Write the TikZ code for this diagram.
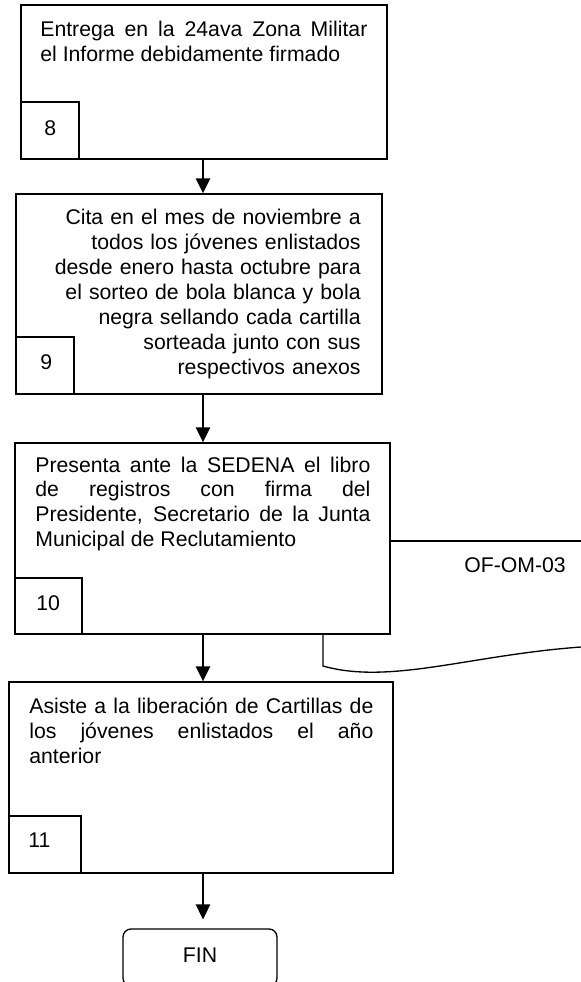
\documentclass[tikz,border=0pt]{standalone}
\usepackage{fontspec}
\setmainfont{Liberation Sans}
\usetikzlibrary{arrows.meta,fit,calc}
\begin{document}
\begin{tikzpicture}[x=0.565pt,y=-0.565pt,
  box/.style={draw,line width=0.75pt,inner sep=0pt,rectangle},
  ln/.style={line width=0.75pt},
  arr/.style={line width=1.1pt,-{Triangle[width=8pt,length=8.5pt]}},
  txt/.style={inner sep=0pt,font=\fontsize{12}{14.1}\selectfont,text width=#1,align=justify,anchor=base west},
  rtxt/.style={inner sep=0pt,font=\fontsize{12}{14.1}\selectfont,text width=#1,align=right,anchor=base east},
  num/.style={inner sep=0pt,font=\fontsize{12}{14.1}\selectfont,anchor=west}
]
\useasboundingbox (0,0) rectangle (581,982);

% Box 8
\node[box,fit={(21,5) (387,159)}] (b8) {};
\node[box,fit={(21,102) (79,159)}] (n8) {};
\node[txt=184.8pt] (t8) at (40,36.5) {Entrega en la 24ava Zona Militar\linebreak el Informe debidamente firmado};
\node[num] (l8) at (44,128) {8};

% Box 9
\node[box,fit={(16,194) (382,394)}] (b9) {};
\node[box,fit={(16,337) (74,394)}] (n9) {};
\node[rtxt=185pt] (t9) at (361,224.5) {Cita en el mes de noviembre a\\ todos los jóvenes enlistados\\ desde enero hasta octubre para\\ el sorteo de bola blanca y bola\\ negra sellando cada cartilla\\ sorteada junto con sus\\ respectivos anexos};
\node[num] (l9) at (40,362) {9};

% Box 10
\node[box,fit={(15,443) (390,634)}] (b10) {};
\node[box,fit={(15,578) (82,634)}] (n10) {};
\node[txt=189.3pt] (t10) at (35,472) {Presenta ante la SEDENA el libro\linebreak de registros con firma del\linebreak Presidente, Secretario de la Junta\linebreak Municipal de Reclutamiento};
\node[num] (l10) at (36,603) {10};

% Box 11
\node[box,fit={(9,682) (393,873)}] (b11) {};
\node[box,fit={(9,816) (81,873)}] (n11) {};
\node[txt=194.4pt] (t11) at (29,713.5) {Asiste a la liberación de Cartillas de\linebreak los jóvenes enlistados el año\linebreak anterior};
\node[num] (l11) at (28,840) {11};

% FIN
\node[draw,line width=0.75pt,rounded corners=4.5pt,inner sep=0pt,fit={(123,929) (277,986)}] (fin) {};
\node[inner sep=0pt,font=\fontsize{12}{14.1}\selectfont] (tfin) at (200,955) {FIN};

% Document OF-OM-03
\coordinate (dTop) at (581,541);
\coordinate (dL) at (323,666);
\coordinate (dR) at (581,647);
\draw[ln] (b10.east |- dTop) -- (dTop);
\draw[ln] (b10.south -| dL) -- (dL) .. controls (390,685) and (470,655) .. (dR);
\node[inner sep=0pt,font=\fontsize{12}{14.1}\selectfont] (doc) at (515,565) {OF-OM-03};

% Arrows
\coordinate (ax) at (203,0);
\draw[arr] (b8.south -| ax) -- (b9.north -| ax);
\draw[arr] (b9.south -| ax) -- (b10.north -| ax);
\draw[arr] (b10.south -| ax) -- (b11.north -| ax);
\draw[arr,shorten >=5pt] (b11.south -| ax) -- (fin.north -| ax);
\end{tikzpicture}
\end{document}
